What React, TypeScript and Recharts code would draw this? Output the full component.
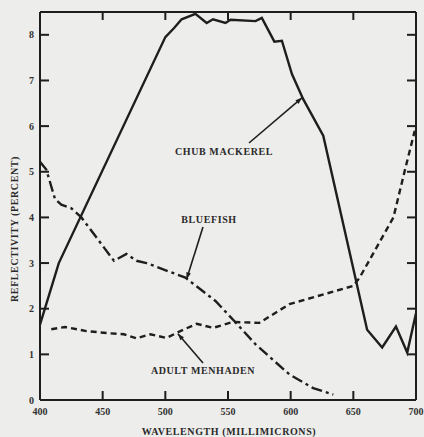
import React from 'react';
import { LineChart, Line, XAxis, YAxis } from 'recharts';

const W = 424;
const H = 437;

const chubWavelength = [400, 415, 500, 507, 513, 524, 533, 538, 548, 552, 572, 577, 587, 593, 601, 610, 626, 661, 673, 684, 693, 700];
const chubReflectivity = [1.65, 3.0, 7.95, 8.15, 8.34, 8.46, 8.26, 8.34, 8.26, 8.33, 8.3, 8.37, 7.85, 7.87, 7.14, 6.59, 5.79, 1.54, 1.15, 1.61, 1.04, 1.9];

const bluefishWavelength = [400, 405, 412, 417, 425, 433, 459, 469, 477, 485, 516, 540, 555, 572, 599, 618, 634];
const bluefishReflectivity = [5.22, 5.05, 4.4, 4.28, 4.2, 4.0, 3.05, 3.2, 3.05, 3.0, 2.68, 2.17, 1.73, 1.22, 0.56, 0.26, 0.12];

const menhadenWavelength = [409, 420, 437, 456, 467, 477, 488, 501, 512, 525, 538, 554, 575, 599, 650, 655, 682, 691, 699];
const menhadenReflectivity = [1.55, 1.6, 1.51, 1.46, 1.44, 1.35, 1.44, 1.36, 1.51, 1.67, 1.58, 1.71, 1.69, 2.1, 2.5, 2.68, 4.0, 5.02, 5.9];

const xTicks = [400, 450, 500, 550, 600, 650, 700];
const xTopTicks = [450, 500, 550, 600, 650];
const yTicks = [0, 1, 2, 3, 4, 5, 6, 7, 8];
const yRightTicks = [1, 2, 3, 4, 5, 6, 7, 8];

const xLabel = 'WAVELENGTH (MILLIMICRONS)';
const yLabel = 'REFLECTIVITY (PERCENT)';
const chubLabel = 'CHUB MACKEREL';
const bluefishLabel = 'BLUEFISH';
const menhadenLabel = 'ADULT MENHADEN';

const toRows = (xs: number[], ys: number[]) => xs.map((x, i) => ({ wl: x, v: ys[i] }));

const chubData = toRows(chubWavelength, chubReflectivity);
const bluefishData = toRows(bluefishWavelength, bluefishReflectivity);
const menhadenData = toRows(menhadenWavelength, menhadenReflectivity);

const INK = '#1e1e1e';
const FONT = '"Liberation Serif", "DejaVu Serif", serif';

// plot area geometry (for annotation placement only)
const PL = 40, PR = 416, PT = 12, PB = 400;
const px = (wl: number) => PL + ((wl - 400) / 300) * (PR - PL);
const py = (v: number) => PB - (v / 8.5) * (PB - PT);

const tickStyle = { fontFamily: FONT, fontWeight: 700, fontSize: 10, fill: '#333' };

const Arrow = ({ x1, y1, x2, y2 }: { x1: number; y1: number; x2: number; y2: number }) => {
  const ang = Math.atan2(y2 - y1, x2 - x1);
  const len = 7;
  const spread = 0.35;
  const ax = x2 - len * Math.cos(ang - spread);
  const ay = y2 - len * Math.sin(ang - spread);
  const bx = x2 - len * Math.cos(ang + spread);
  const by = y2 - len * Math.sin(ang + spread);
  return (
    <g>
      <line x1={x1} y1={y1} x2={x2} y2={y2} stroke={INK} strokeWidth={1.6} />
      <polygon points={`${x2},${y2} ${ax},${ay} ${bx},${by}`} fill={INK} />
    </g>
  );
};

export default function App() {
  return (
    <div style={{ position: 'absolute', left: 0, top: 0, width: W, height: H, background: '#ededeb' }}>
      <LineChart width={W} height={H} margin={{ top: 11, right: 7, bottom: 7, left: 0 }}>
        <XAxis
          xAxisId={0}
          type="number"
          dataKey="wl"
          domain={[400, 700]}
          ticks={xTicks}
          allowDataOverflow
          height={30}
          tickSize={-9}
          tickMargin={17}
          tick={tickStyle}
          tickLine={{ stroke: INK, strokeWidth: 2 }}
          axisLine={{ stroke: INK, strokeWidth: 2 }}
        />
        <XAxis
          xAxisId="top"
          orientation="top"
          type="number"
          dataKey="wl"
          domain={[400, 700]}
          ticks={xTopTicks}
          allowDataOverflow
          height={1}
          tickSize={-8}
          tickFormatter={() => ''}
          tickLine={{ stroke: INK, strokeWidth: 2 }}
          axisLine={{ stroke: INK, strokeWidth: 2 }}
        />
        <YAxis
          yAxisId={0}
          type="number"
          domain={[0, 8.5]}
          ticks={yTicks}
          allowDataOverflow
          width={40}
          tickSize={-9}
          tickMargin={15}
          tick={tickStyle}
          tickLine={{ stroke: INK, strokeWidth: 2 }}
          axisLine={{ stroke: INK, strokeWidth: 2 }}
        />
        <YAxis
          yAxisId="right"
          orientation="right"
          type="number"
          domain={[0, 8.5]}
          ticks={yRightTicks}
          allowDataOverflow
          width={1}
          tickSize={-9}
          tickFormatter={() => ''}
          tickLine={{ stroke: INK, strokeWidth: 2 }}
          axisLine={{ stroke: INK, strokeWidth: 2 }}
        />
        <Line
          data={chubData}
          dataKey="v"
          type="linear"
          stroke={INK}
          strokeWidth={2.4}
          dot={false}
          isAnimationActive={false}
        />
        <Line
          data={bluefishData}
          dataKey="v"
          type="linear"
          stroke={INK}
          strokeWidth={2.4}
          strokeDasharray="11 4 3 4"
          dot={false}
          isAnimationActive={false}
        />
        <Line
          data={menhadenData}
          dataKey="v"
          type="linear"
          stroke={INK}
          strokeWidth={2.4}
          strokeDasharray="6 4"
          dot={false}
          isAnimationActive={false}
        />
        <Line
          xAxisId="top"
          yAxisId="right"
          data={menhadenData}
          dataKey="v"
          stroke="none"
          strokeWidth={0}
          dot={false}
          activeDot={false}
          legendType="none"
          isAnimationActive={false}
        />
      </LineChart>
      <svg
        width={W}
        height={H}
        style={{ position: 'absolute', left: 0, top: 0, pointerEvents: 'none' }}
      >
        <g fontFamily={FONT} fontWeight={700} fontSize={10} fill="#2a2a2a" letterSpacing={0.6}>
          <text x={224} y={151} textAnchor="middle" dominantBaseline="central">{chubLabel}</text>
          <text x={209} y={219} textAnchor="middle" dominantBaseline="central">{bluefishLabel}</text>
          <text x={203} y={370} textAnchor="middle" dominantBaseline="central">{menhadenLabel}</text>
          <text x={229} y={431} textAnchor="middle" dominantBaseline="central">{xLabel}</text>
          <text
            x={14}
            y={229}
            textAnchor="middle"
            dominantBaseline="central"
            transform="rotate(-90 14 229)"
          >
            {yLabel}
          </text>
        </g>
        <Arrow x1={249} y1={143} x2={px(609)} y2={py(6.62)} />
        <Arrow x1={203} y1={227} x2={px(517)} y2={py(2.65)} />
        <Arrow x1={203} y1={363} x2={px(510)} y2={py(1.45)} />
      </svg>
    </div>
  );
}
